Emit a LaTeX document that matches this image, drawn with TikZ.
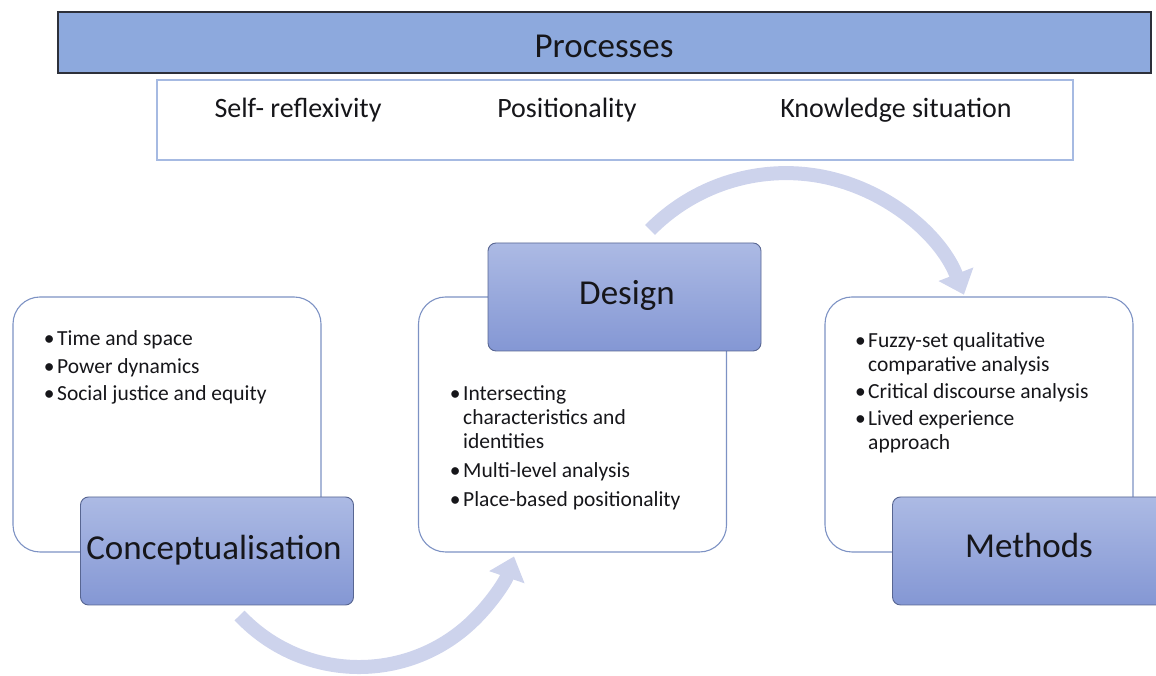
\documentclass[tikz,border=0pt]{standalone}
\usepackage{fontspec}
\setmainfont{Carlito}
\usetikzlibrary{arrows.meta}

\definecolor{barfill}{RGB}{141,169,221}
\definecolor{barline}{RGB}{45,48,58}
\definecolor{procline}{RGB}{166,186,226}
\definecolor{boxline}{RGB}{125,146,196}
\definecolor{headtop}{RGB}{172,186,228}
\definecolor{headbot}{RGB}{132,151,212}
\definecolor{headline}{RGB}{88,102,146}
\definecolor{flowcol}{RGB}{205,211,236}
\definecolor{ink}{RGB}{22,22,26}

\newcommand{\bul}{\llap{\textbullet\hspace{2.5pt}}}

\begin{document}
\begin{tikzpicture}[x=1pt,y=1pt,
  every node/.style={text=ink},
  bar/.style={draw=barline, line width=1.1pt, fill=barfill, inner sep=0pt,
    minimum width=1093pt, minimum height=61pt},
  procbox/.style={draw=procline, line width=2.4pt, fill=white, inner sep=0pt,
    minimum width=916pt, minimum height=80pt},
  contentbox/.style={draw=boxline, line width=1.1pt, fill=white, rounded corners=27pt,
    inner sep=0pt, minimum width=308pt, minimum height=255pt},
  headbox/.style={draw=headline, line width=0.9pt, top color=headtop, bottom color=headbot,
    rounded corners=8pt, inner sep=0pt, minimum width=273pt, minimum height=108pt},
  bigtext/.style={font=\fontsize{35}{40}\selectfont, inner sep=0pt},
  proctext/.style={font=\fontsize{28}{32}\selectfont, inner sep=0pt},
  bullets/.style={font=\fontsize{21.5}{24}\selectfont, align=left, inner sep=0pt},
  flow/.style={draw=flowcol, line width=14pt,
    -{Triangle[width=36pt,length=22pt]}},
]
\useasboundingbox (0,0) rectangle (1156,676);

% curved flow arrows (behind the boxes)
\coordinate (flowtop) at (650,446);
\coordinate (flowbot) at (239.6,60.5);
\draw[flow] (flowtop) arc[start angle=135.4, end angle=21.3, radius=191];
\draw[flow] (flowbot) arc[start angle=223.3, end angle=341, radius=164];

% processes banner
\node[bar] (procbar) at (604.5,633.5) {};
\node[bigtext, anchor=base] (proctitle) at (604,618) {Processes};
\node[procbox] (procbox) at (615,556) {};
\node[proctext, anchor=base] (selfref) at (298,558) {Self- reflexivity};
\node[proctext, anchor=base] (posit) at (567,558) {Positionality};
\node[proctext, anchor=base] (knowsit) at (896,558) {Knowledge situation};

% conceptualisation (list anchored at the baseline of its last line)
\node[contentbox] (conctext) at (167,251.5) {};
\node[bullets, anchor=base west] (conclist) at (57,275)
  {\bul Time and space\\[3.5pt]
   \bul Power dynamics\\[3.5pt]
   \bul Social justice and equity};
\node[headbox] (conc) at (217,125) {};
\node[bigtext, anchor=base] (conclabel) at (214,116) {Conceptualisation};

% design
\node[contentbox] (destext) at (572.5,251.5) {};
\node[headbox] (des) at (624.5,379) {};
\node[bigtext, anchor=base] (deslabel) at (627,371) {Design};
\node[bullets, anchor=base west] (deslist) at (463,169)
  {\bul Intersecting\\
   characteristics and\\
   identities\\[5pt]
   \bul Multi-level analysis\\[5pt]
   \bul Place-based positionality};

% methods
\node[contentbox] (methtext) at (979,251.5) {};
\node[bullets, anchor=base west] (methlist) at (868,226)
  {\bul Fuzzy-set qualitative\\
   comparative analysis\\[3pt]
   \bul Critical discourse analysis\\[3pt]
   \bul Lived experience\\
   approach};
\node[headbox] (meth) at (1029,125) {};
\node[bigtext, anchor=base] (methlabel) at (1029,118) {Methods};
\end{tikzpicture}
\end{document}
